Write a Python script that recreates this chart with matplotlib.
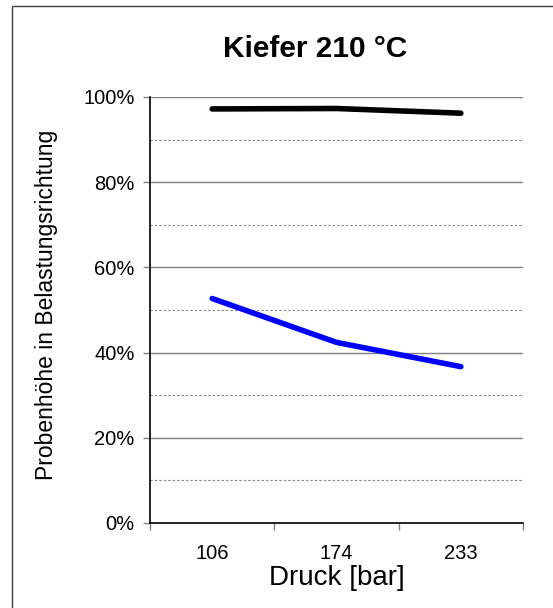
import numpy as np
import matplotlib
matplotlib.use("Agg")
import matplotlib.pyplot as plt
from matplotlib.patches import Rectangle
from matplotlib.ticker import MultipleLocator, FuncFormatter

plt.rcParams['font.family'] = ['Liberation Sans', 'DejaVu Sans']

# data
druck = ['106', '174', '233']
hoehe_schwarz = [97.2, 97.3, 96.2]
hoehe_blau = [52.7, 42.4, 36.7]

fig = plt.figure(figsize=(5.53, 6.08), dpi=100)

# outer chart border (only left/top visible in the reference)
fig.patches.append(Rectangle((12 / 553, -0.1), 1.2, (608 - 6) / 608 + 0.1,
                             transform=fig.transFigure, fill=False,
                             edgecolor='#404040', linewidth=1.0))

ax = fig.add_axes([150 / 553, 1 - 523 / 608, 373 / 553, 426 / 608])

x = np.arange(len(druck))
ax.plot(x, hoehe_schwarz, color='black', linewidth=4, solid_capstyle='round')
ax.plot(x, hoehe_blau, color='#0000ff', linewidth=4, solid_capstyle='round')

ax.set_xlim(-0.5, len(druck) - 0.5)
ax.set_ylim(0, 100)

# gridlines
ax.yaxis.set_major_locator(MultipleLocator(20))
ax.yaxis.set_minor_locator(MultipleLocator(10))
ax.grid(which='major', axis='y', color='#808080', linewidth=1, linestyle='-')
ax.grid(which='minor', axis='y', color='#808080', linewidth=0.8, linestyle=(0, (2, 2)))
ax.set_axisbelow(True)
ax.yaxis.set_major_formatter(FuncFormatter(lambda v, p: f'{int(v)}%'))
ax.tick_params(axis='y', which='minor', length=0)
ax.tick_params(axis='y', which='major', length=5, color='#808080', width=1,
               labelsize=14.5, pad=6)

# category ticks at boundaries
ax.set_xticks(x)
ax.set_xticklabels(druck)
ax.set_xticks(np.arange(len(druck) + 1) - 0.5, minor=True)
ax.tick_params(axis='x', which='major', length=0, labelsize=14.5, pad=15)
ax.tick_params(axis='x', which='minor', length=5, color='#808080', width=1)

for s in ['top', 'right']:
    ax.spines[s].set_visible(False)
ax.spines['left'].set_color('black')
ax.spines['bottom'].set_color('black')
ax.spines['left'].set_linewidth(1.2)
ax.spines['bottom'].set_linewidth(1.2)

ax.set_xlabel('Druck [bar]', fontsize=20)
ax.set_ylabel('Probenhöhe in Belastungsrichtung', fontsize=16.5)
ax.xaxis.set_label_coords(0.5, (523 - 578) / 426)
ax.yaxis.set_label_coords((47 - 150) / 373, 0.5 + 5 / 426)
ax.xaxis.label.set_va('center')
ax.yaxis.label.set_va('center')

fig.text(315 / 553, 1 - 49 / 608, 'Kiefer 210 °C', ha='center', va='center',
         fontsize=21.5, fontweight='bold')

fig.savefig('out.png', dpi=100)
